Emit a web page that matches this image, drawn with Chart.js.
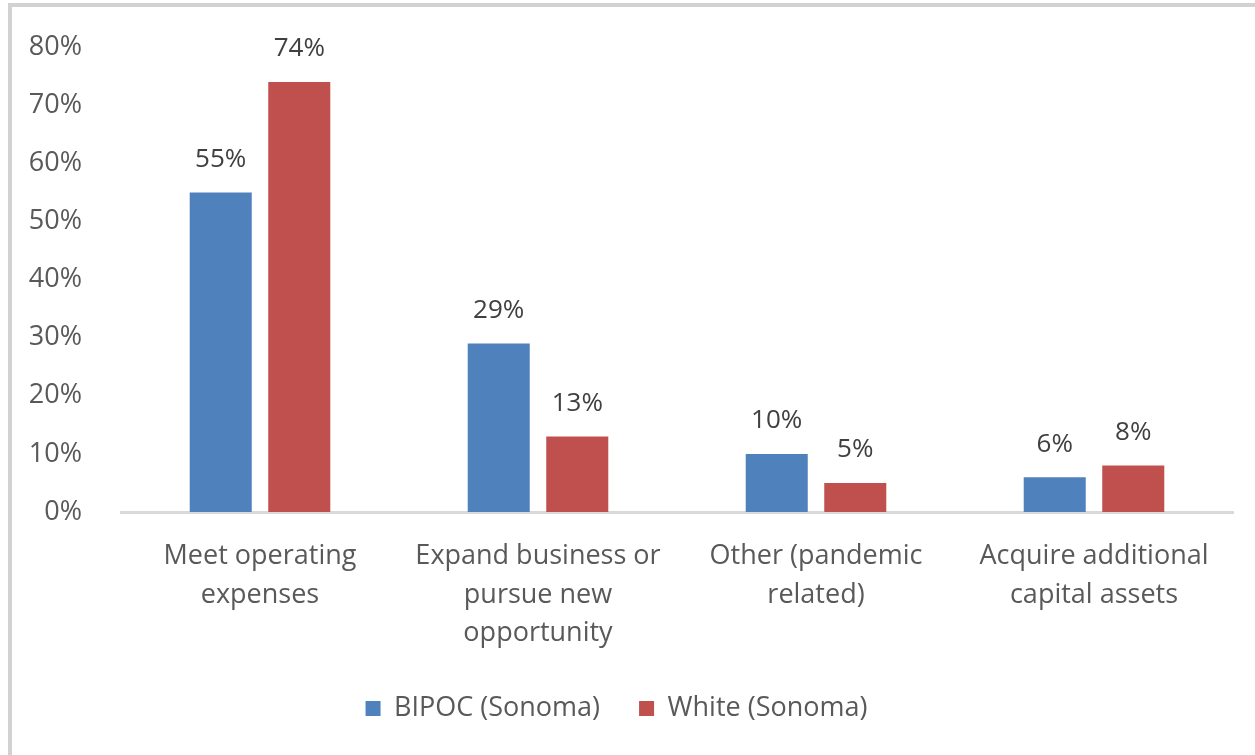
<!DOCTYPE html>
<html>
<head>
<meta charset="utf-8">
<script src="https://cdn.jsdelivr.net/npm/chart.js@4"></script>
<style>
  html, body { margin: 0; padding: 0; background: #fff; }
  body { width: 1255px; height: 755px; position: relative; overflow: hidden; }
  #frame { position: absolute; left: 8px; top: 3px; width: 1300px; height: 800px;
           border-left: 4px solid #d2d2d2; border-top: 4px solid #d2d2d2; box-sizing: border-box; }
  #wrap { position: absolute; left: 0; top: 0; width: 1255px; height: 755px; }
</style>
</head>
<body>
<div id="frame"></div>
<div id="wrap"><canvas id="c" width="1255" height="755"></canvas></div>
<script>
const categories = [
  ["Meet operating", "expenses"],
  ["Expand business or", "pursue new", "opportunity"],
  ["Other (pandemic", "related)"],
  ["Acquire additional", "capital assets"]
];
const bipocValues = [55, 29, 10, 6];
const whiteValues = [74, 13, 5, 8];
const seriesNames = ["BIPOC (Sonoma)", "White (Sonoma)"];
const yTicks = [0, 10, 20, 30, 40, 50, 60, 70, 80];

const FONT = "'Open Sans', sans-serif";

const dataLabels = {
  id: 'dataLabels',
  afterDatasetsDraw(chart) {
    const ctx = chart.ctx;
    ctx.save();
    ctx.font = "26px " + FONT;
    ctx.fillStyle = '#404040';
    ctx.textAlign = 'center';
    ctx.textBaseline = 'middle';
    chart.data.datasets.forEach((ds, i) => {
      const meta = chart.getDatasetMeta(i);
      meta.data.forEach((bar, j) => {
        ctx.fillText(ds.data[j] + '%', bar.x, bar.y - 33);
      });
    });
    ctx.restore();
  }
};

new Chart(document.getElementById('c'), {
  type: 'bar',
  data: {
    labels: categories,
    datasets: [
      { label: seriesNames[0], data: bipocValues, backgroundColor: '#4F81BD',
        categoryPercentage: 0.565, barPercentage: 0.79 },
      { label: seriesNames[1], data: whiteValues, backgroundColor: '#C0504D',
        categoryPercentage: 0.565, barPercentage: 0.79 }
    ]
  },
  options: {
    responsive: false,
    animation: false,
    devicePixelRatio: 1,
    layout: { padding: { top: 45, right: 22, left: 0, bottom: 23 } },
    plugins: {
      tooltip: { enabled: false },
      legend: {
        position: 'bottom',
        labels: {
          boxWidth: 15, boxHeight: 15, padding: 39,
          color: '#595959',
          font: { family: FONT, size: 27 }
        }
      }
    },
    scales: {
      x: {
        grid: { display: false },
        border: { display: true, color: '#d9d9d9', width: 3 },
        ticks: {
          color: '#595959', padding: 17, maxRotation: 0, autoSkip: false,
          font: { family: FONT, size: 27, lineHeight: 1.43 }
        },
        afterFit(scale) { scale.height = 144; }
      },
      y: {
        min: 0, max: 80,
        grid: { display: false },
        border: { display: false },
        afterBuildTicks(scale) { scale.ticks = yTicks.map(v => ({ value: v })); },
        ticks: {
          color: '#595959', padding: 31,
          font: { family: FONT, size: 27 },
          callback: v => v + '%'
        },
        afterFit(scale) { scale.width = 121; }
      }
    }
  },
  plugins: [dataLabels]
});
</script>
</body>
</html>
